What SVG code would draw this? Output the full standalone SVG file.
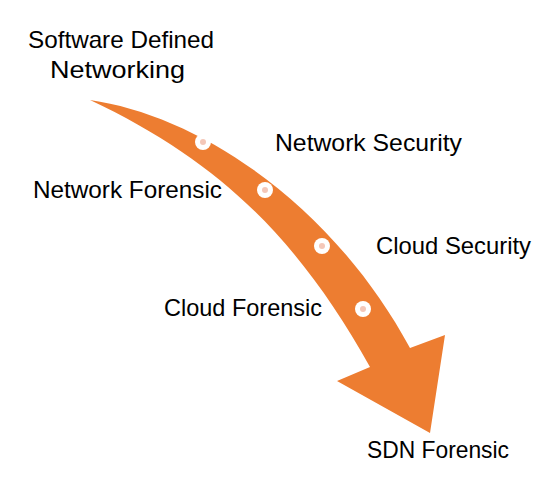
<svg xmlns="http://www.w3.org/2000/svg" width="550" height="483" viewBox="0 0 550 483">
<style>
  .lbl { font-family: "Liberation Sans", Arial, sans-serif; font-size: 24px; fill: #000; }
  .arrow { fill: #ED7D31; }
  .dot-o { fill: #fff; }
  .dot-i { fill: #F4C7B8; }
</style>
<rect width="550" height="483" fill="#fff"/>
<g id="connectors">
  <path class="arrow" d="M90,100 C200,116 332,204 410,348 L445,335 L430,433 L337,381 L370,367 C300,242 222,162 90,100 Z"/>
</g>
<g id="dots">
  <g><circle class="dot-o" cx="203" cy="142" r="8"/><circle class="dot-i" cx="203" cy="142" r="3"/></g>
  <g><circle class="dot-o" cx="265" cy="190" r="8"/><circle class="dot-i" cx="265" cy="190" r="3"/></g>
  <g><circle class="dot-o" cx="322" cy="246" r="8"/><circle class="dot-i" cx="322" cy="246" r="3"/></g>
  <g><circle class="dot-o" cx="363" cy="309" r="8"/><circle class="dot-i" cx="363" cy="309" r="3"/></g>
</g>
<g id="node-sdn">
  <text class="lbl" x="28" y="48" textLength="186" lengthAdjust="spacingAndGlyphs">Software Defined</text>
  <text class="lbl" x="50" y="78" textLength="135" lengthAdjust="spacingAndGlyphs">Networking</text>
</g>
<g id="node-netsec">
  <text class="lbl" x="275" y="151" textLength="187" lengthAdjust="spacingAndGlyphs">Network Security</text>
</g>
<g id="node-netfor">
  <text class="lbl" x="33" y="198" textLength="189" lengthAdjust="spacingAndGlyphs">Network Forensic</text>
</g>
<g id="node-cloudsec">
  <text class="lbl" x="376" y="254" textLength="155" lengthAdjust="spacingAndGlyphs">Cloud Security</text>
</g>
<g id="node-cloudfor">
  <text class="lbl" x="164" y="316" textLength="158" lengthAdjust="spacingAndGlyphs">Cloud Forensic</text>
</g>
<g id="node-sdnfor">
  <text class="lbl" x="367" y="458" textLength="142" lengthAdjust="spacingAndGlyphs">SDN Forensic</text>
</g>
</svg>
